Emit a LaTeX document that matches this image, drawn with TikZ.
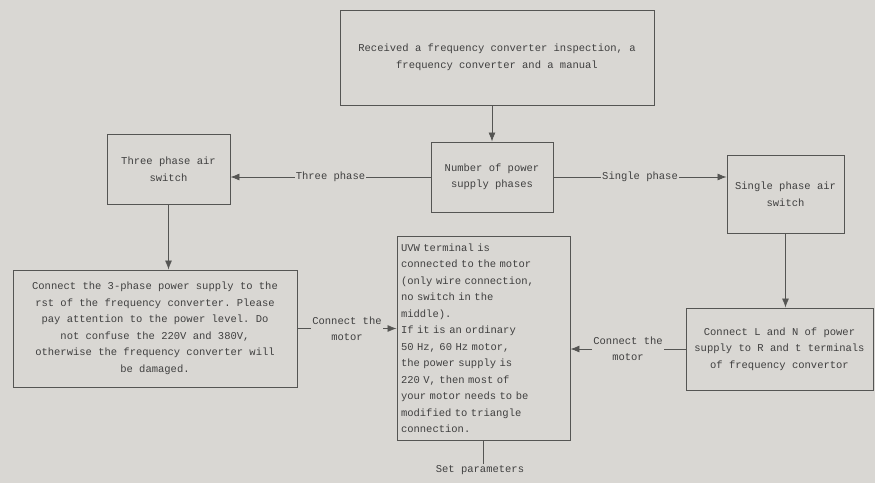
\documentclass[tikz,border=0pt]{standalone}
\usepackage{fontspec}
\setmonofont{Liberation Mono}
\usetikzlibrary{arrows.meta}
\definecolor{bg}{HTML}{D9D7D3}
\definecolor{ink}{HTML}{404040}
\definecolor{ln}{HTML}{555553}
\begin{document}
\begin{tikzpicture}[x=1pt,y=-1pt,
  box/.style={draw=ln,line width=0.9pt,rectangle,inner sep=3pt,text=ink,
    font=\ttfamily\fontsize{10.5}{16.5}\selectfont,align=center},
  lbl/.style={fill=bg,text=ink,inner sep=1pt,font=\ttfamily\fontsize{10.5}{16}\selectfont,align=center},
  conn/.style={draw=ln,line width=0.8pt},
  arr/.style={conn,-{Latex[length=9pt,width=7pt]}}]
\fill[bg] (0,0) rectangle (875,483);
\useasboundingbox (0,0) rectangle (875,483);
\node[box,minimum width=314pt,minimum height=95pt] (top) at (497,57.5)
  {Received a frequency converter inspection, a\\frequency converter and a manual};
\node[box,minimum width=122pt,minimum height=70pt] (num) at (492,177)
  {Number of power\\supply phases};
\node[box,minimum width=123pt,minimum height=70pt] (three) at (168.5,169)
  {Three phase air\\switch};
\node[box,minimum width=117pt,minimum height=78pt] (single) at (785.5,194)
  {Single phase air\\switch};
\node[box,minimum width=284pt,minimum height=117pt] (c3) at (155,328.5)
  {Connect the 3-phase power supply to the\\rst of the frequency converter. Please\\pay attention to the power level. Do\\not confuse the 220V and 380V,\\otherwise the frequency converter will\\be damaged.};
\node[box,minimum width=173pt,minimum height=204pt,align=left,text width=165pt] (uvw) at (483.5,338)
  {UVW terminal is\\connected to the motor\\(only wire connection,\\no switch in the\\middle).\\If it is an ordinary\\50 Hz, 60 Hz motor,\\the power supply is\\220 V, then most of\\your motor needs to be\\modified to triangle\\connection.};
\node[box,minimum width=187pt,minimum height=82pt] (cL) at (779.5,349)
  {Connect L and N of power\\supply to R and t terminals\\of frequency convertor};
\node[lbl,anchor=north] (set) at (480,464) {Set parameters};

\draw[arr] (num.north |- top.south) -- (num.north);
\draw[arr] (num.west) -- node[lbl]{Three phase} (three.east |- num.west);
\draw[arr] (num.east) -- node[lbl]{Single phase} (single.west |- num.east);
\draw[arr] (three.south) -- (three.south |- c3.north);
\draw[arr] (single.south) -- (single.south |- cL.north);
\draw[arr] (c3.east) -- node[lbl]{Connect the\\motor} (uvw.west |- c3.east);
\draw[arr] (cL.west) -- node[lbl]{Connect the\\motor} (uvw.east |- cL.west);
\draw[conn] (set.north -| uvw.south) -- (uvw.south);
\end{tikzpicture}
\end{document}
